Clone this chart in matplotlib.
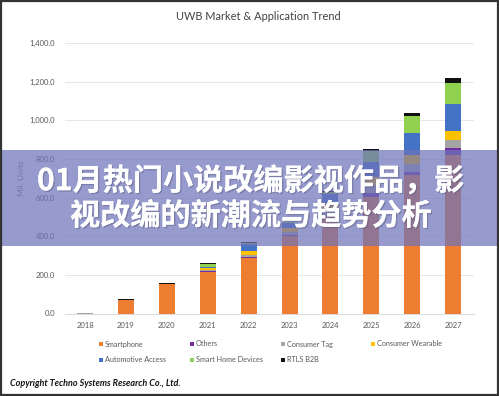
import matplotlib.pyplot as plt
import matplotlib.patheffects as pe
from matplotlib.patches import Rectangle
from matplotlib.ticker import FuncFormatter
import numpy as np

years = ["2018", "2019", "2020", "2021", "2022", "2023", "2024", "2025", "2026", "2027"]

# Mil. units
smartphone = [0, 71, 152, 216, 285, 400, 500, 605, 716, 819]
others     = [0, 0, 0, 3, 5, 8, 12, 18, 17, 35]
tag        = [4, 0, 0, 8, 12, 15, 25, 42, 43, 43]
wearable   = [0, 0, 0, 10, 22, 20, 30, 40, 43, 47]
automotive = [0, 0, 0, 5, 35, 25, 50, 80, 115, 140]
smart_home = [0, 0, 0, 12, 8, 5, 10, 55, 90, 110]
rtls       = [1, 4, 5, 5, 3, 3, 6, 12, 15, 23]

series = [
    ("Smartphone", smartphone, "#ED7D31"),
    ("Others", others, "#7030A0"),
    ("Consumer Tag", tag, "#A5A5A5"),
    ("Consumer Wearable", wearable, "#FFC000"),
    ("Automotive Access", automotive, "#4472C4"),
    ("Smart Home Devices", smart_home, "#92D050"),
    ("RTLS B2B", rtls, "#111111"),
]

title = "UWB Market & Application Trend"
banner_lines = ["01月热门小说改编影视作品，影", "视改编的新潮流与趋势分析"]

W, H = 499, 396
fig = plt.figure(figsize=(W / 100, H / 100), dpi=100)
fig.patch.set_facecolor("white")

ax = fig.add_axes([64.6 / W, 1 - 313.5 / H, 409 / W, 270.5 / H])
x = np.arange(len(years))
bottom = np.zeros(len(years))
for name, vals, col in series:
    ax.bar(x, vals, width=0.39, bottom=bottom, color=col, zorder=3)
    bottom += np.array(vals)

ax.set_xlim(-0.5, len(years) - 0.5)
ax.set_ylim(0, 1400)
ax.set_yticks(np.arange(0, 1401, 200))
ax.yaxis.set_major_formatter(FuncFormatter(lambda v, p: f"{v:,.1f}"))
ax.set_xticks(x)
ax.set_xticklabels(years)
ax.tick_params(axis="both", length=0, labelsize=5.5, colors="#595959", pad=6)
ax.tick_params(axis="y", pad=7)
ax.grid(axis="y", color="#e6e6e6", lw=0.7, zorder=0)
for s in ["top", "right", "left"]:
    ax.spines[s].set_visible(False)
ax.spines["bottom"].set_color("#d9d9d9")
ax.spines["bottom"].set_linewidth(0.7)
ax.set_ylabel("Mil. Units", fontsize=6, color="#7f7f7f", labelpad=3)
for lbl in ax.get_xticklabels() + ax.get_yticklabels():
    lbl.set_family("Lato")
ax.yaxis.label.set_family("Lato")

fig.text(258 / W, 1 - 16 / H, title, ha="center", va="center",
         fontsize=7.9, color="#404040", family="Lato")

# legend, 4 columns x 2 rows
col_x = [101, 192, 283, 373]
row_y = [344, 359.5]
for i, (name, vals, col) in enumerate(series):
    cx, cy = col_x[i % 4], row_y[i // 4]
    fig.patches.append(Rectangle(((cx - 2) / W, 1 - (cy + 2) / H), 4 / W, 4 / H,
                                 transform=fig.transFigure, color=col, lw=0))
    fig.text((cx + 4) / W, 1 - cy / H, name, ha="left", va="center",
             fontsize=5.2, color="#595959", family="Lato")

fig.text(10 / W, 1 - 383 / H, "Copyright Techno Systems Research Co., Ltd.",
         ha="left", va="center", fontsize=6.5, fontweight="bold", style="italic",
         color="#111111", family="Lato")

# translucent banner with headline
fig.patches.append(Rectangle((0, 1 - 246 / H), 1, 96 / H, transform=fig.transFigure,
                             color=(0.43, 0.45, 0.73), alpha=0.72, lw=0, zorder=5))
for tx, ty, line in zip([37, 70], [181, 216], banner_lines):
    fig.text(tx / W, 1 - ty / H, line, ha="left", va="center", fontsize=21.7,
             fontweight="bold", color="white", zorder=6,
             family="Noto Sans CJK SC",
             path_effects=[pe.withSimplePatchShadow(offset=(1, -1), shadow_rgbFace="#555577", alpha=0.4),
                           pe.Normal()])

# dark frame
fig.patches.append(Rectangle((0.002, 0.002), 0.996, 0.996, transform=fig.transFigure,
                             fill=False, ec="#333333", lw=1.6, zorder=7))

fig.savefig("out.png", dpi=100)
